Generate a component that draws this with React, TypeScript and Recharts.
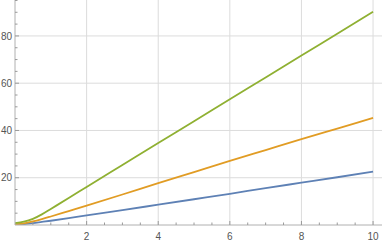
import { LineChart, Line, XAxis, YAxis, CartesianGrid } from "recharts";

const xs = [0, 0.25, 0.5, 0.75, 1, 1.5, 2, 3, 4, 5, 6, 7, 8, 9, 10];
const blue = [0.1, 0.4, 0.8, 1.3, 1.8, 2.9, 4.1, 6.3, 8.6, 10.9, 13.2, 15.6, 17.9, 20.2, 22.6];
const orange = [0.3, 0.7, 1.5, 2.5, 3.6, 5.9, 8.2, 12.9, 17.7, 22.4, 27.1, 31.7, 36.3, 40.8, 45.3];
const green = [0.8, 1.4, 2.6, 4.5, 6.8, 11.4, 16.1, 25.4, 34.7, 43.9, 53.2, 62.4, 71.7, 80.9, 90.2];

const xMajor = [2, 4, 6, 8, 10];
const yMajor = [20, 40, 60, 80];
const xTicks = [0.5, 1, 1.5, 2, 2.5, 3, 3.5, 4, 4.5, 5, 5.5, 6, 6.5, 7, 7.5, 8, 8.5, 9, 9.5, 10];
const yTicks = [5, 10, 15, 20, 25, 30, 35, 40, 45, 50, 55, 60, 65, 70, 75, 80, 85, 90, 95];

const X_DOMAIN: [number, number] = [0, 10.25];
const Y_DOMAIN: [number, number] = [0, 95.2];

const data = xs.map((x, i) => ({ x, blue: blue[i], orange: orange[i], green: green[i] }));

const TICK_COLOR = "#9a9a9a";
const LABEL_COLOR = "#555555";
const FONT = "'Liberation Sans', Arial, sans-serif";

// Mathematica-style ticks: pointing into the plot, short minor ticks, labels on majors only
function XTick(props: any) {
  const { x, y, payload } = props;
  const major = xMajor.includes(payload.value);
  return (
    <g>
      <line x1={x} x2={x} y1={y} y2={y - (major ? 4 : 2.5)} stroke={TICK_COLOR} strokeWidth={1} />
      {major && (
        <text x={x} y={y + 15} textAnchor="middle" fontSize={10} fontFamily={FONT} fill={LABEL_COLOR}>
          {payload.value}
        </text>
      )}
    </g>
  );
}

function YTick(props: any) {
  const { x, y, payload } = props;
  const major = yMajor.includes(payload.value);
  return (
    <g>
      <line x1={x} x2={x + (major ? 4 : 2.5)} y1={y} y2={y} stroke={TICK_COLOR} strokeWidth={1} />
      {major && (
        <text x={x - 3} y={y + 3.6} textAnchor="end" fontSize={10} fontFamily={FONT} fill={LABEL_COLOR}>
          {payload.value}
        </text>
      )}
    </g>
  );
}

export default function App() {
  return (
    <div style={{ position: "absolute", left: 0, top: 0, background: "#fff" }}>
      <LineChart width={382} height={244} data={data} margin={{ top: 0, right: 0, bottom: 0, left: 0 }}>
        <CartesianGrid
          stroke="#dcdcdc"
          strokeWidth={1}
          verticalCoordinatesGenerator={({ offset }: any) =>
            xMajor.map((v) => offset.left + ((v - X_DOMAIN[0]) / (X_DOMAIN[1] - X_DOMAIN[0])) * offset.width)
          }
          horizontalCoordinatesGenerator={({ offset }: any) =>
            yMajor.map((v) => offset.top + offset.height * (1 - (v - Y_DOMAIN[0]) / (Y_DOMAIN[1] - Y_DOMAIN[0])))
          }
        />
        <XAxis
          dataKey="x"
          type="number"
          domain={X_DOMAIN}
          ticks={xTicks}
          interval={0}
          height={19}
          tickSize={0}
          tickMargin={0}
          tickLine={false}
          tick={<XTick />}
          axisLine={{ stroke: "#b0b0b0" }}
          allowDataOverflow
        />
        <YAxis
          type="number"
          domain={Y_DOMAIN}
          ticks={yTicks}
          interval={0}
          width={15}
          tickSize={0}
          tickMargin={0}
          tickLine={false}
          tick={<YTick />}
          axisLine={{ stroke: "#b0b0b0" }}
          allowDataOverflow
        />
        <Line type="monotone" dataKey="blue" stroke="#5e81b5" strokeWidth={1.8} dot={false} isAnimationActive={false} />
        <Line type="monotone" dataKey="orange" stroke="#e19c24" strokeWidth={1.8} dot={false} isAnimationActive={false} />
        <Line type="monotone" dataKey="green" stroke="#8fb032" strokeWidth={1.8} dot={false} isAnimationActive={false} />
      </LineChart>
    </div>
  );
}
